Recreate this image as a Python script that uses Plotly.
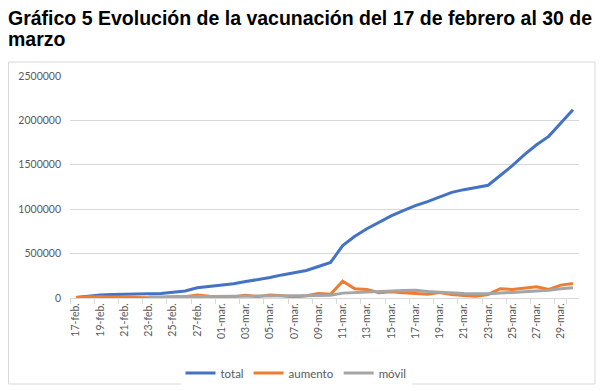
import plotly.graph_objects as go

dates = ["17-feb.", "18-feb.", "19-feb.", "20-feb.", "21-feb.", "22-feb.", "23-feb.", "24-feb.",
         "25-feb.", "26-feb.", "27-feb.", "28-feb.", "01-mar.", "02-mar.", "03-mar.", "04-mar.",
         "05-mar.", "06-mar.", "07-mar.", "08-mar.", "09-mar.", "10-mar.", "11-mar.", "12-mar.",
         "13-mar.", "14-mar.", "15-mar.", "16-mar.", "17-mar.", "18-mar.", "19-mar.", "20-mar.",
         "21-mar.", "22-mar.", "23-mar.", "24-mar.", "25-mar.", "26-mar.", "27-mar.", "28-mar.",
         "29-mar.", "30-mar."]

total = [5000, 20000, 35000, 40000, 40000, 45000, 48000, 52000, 65000, 80000, 115000, 130000,
         140000, 160000, 185000, 205000, 230000, 260000, 285000, 310000, 355000, 400000,
         590000, 695000, 780000, 850000, 925000, 985000, 1040000, 1085000, 1140000, 1190000,
         1220000, 1245000, 1270000, 1380000, 1490000, 1615000, 1725000, 1820000, 1970000, 2120000]

aumento = [5000, 15000, 15000, 10000, 5000, 5000, 3000, 3000, 15000, 15000, 35000, 20000,
           10000, 15000, 30000, 15000, 35000, 25000, 10000, 25000, 50000, 42000,
           190000, 105000, 95000, 60000, 70000, 58000, 48000, 42000, 62000, 38000,
           28000, 20000, 40000, 104000, 96000, 115000, 126000, 96000, 145000, 163000]

movil = [None, None, None, None, None, None, 12000, 12000, 13000, 13000, 17000, 18000,
         19000, 19000, 21000, 20000, 23000, 24000, 24000, 25000, 29000, 30000,
         55000, 62000, 68000, 74000, 80000, 85000, 88000, 72000, 65000, 56000,
         50000, 48000, 47000, 55000, 62000, 66000, 78000, 88000, 103000, 116000]

y_ticks = [0, 500000, 1000000, 1500000, 2000000, 2500000]
x_labels = dates[::2]

title_line1 = "Gráfico 5 Evolución de la vacunación del 17 de febrero al 30 de"
title_line2 = "marzo"

# page body has an 8px margin; figure is sized/positioned to compensate
OFF = 8
W, H = 608 - OFF, 391 - OFF
L, R, T, B = 70 - OFF, 608 - 579, 76 - OFF, 391 - 298
pw, ph = W - L - R, H - T - B

def px_x(p):  # page pixel -> paper fraction
    return (p - OFF - L) / pw

def px_y(p):
    return (H - B - (p - OFF)) / ph

fig = go.Figure()
fig.add_trace(go.Scatter(x=dates, y=total, name="total", mode="lines",
                         line=dict(color="#4472C4", width=3)))
fig.add_trace(go.Scatter(x=dates, y=aumento, name="aumento", mode="lines",
                         line=dict(color="#ED7D31", width=3)))
fig.add_trace(go.Scatter(x=dates, y=movil, name="móvil", mode="lines",
                         line=dict(color="#A5A5A5", width=3)))

tick_font = dict(family="Lato, Liberation Sans, sans-serif", size=10.5, color="#595959")

fig.update_layout(
    width=W, height=H,
    margin=dict(l=L, r=R, t=T, b=B, autoexpand=False),
    paper_bgcolor="white", plot_bgcolor="white",
    showlegend=True,
    legend=dict(orientation="h", xref="container", x=(296 - OFF) / W, xanchor="center",
                yref="container", y=1 - (373 - OFF) / H, yanchor="middle",
                font=dict(family="Lato, Liberation Sans, sans-serif", size=11.5, color="#595959"),
                itemwidth=30, tracegroupgap=0),
    xaxis=dict(type="category", categoryorder="array", categoryarray=dates,
               range=[-0.5, len(dates) - 0.5], automargin=False,
               tickmode="array", tickvals=x_labels, ticktext=x_labels,
               tickangle=-90, tickfont=tick_font,
               showgrid=False, showline=True, linecolor="#D9D9D9", linewidth=1,
               ticks="outside", ticklen=5, tickcolor="#D9D9D9", tickson="boundaries",
               zeroline=False),
    yaxis=dict(range=[0, 2500000], tickmode="array", tickvals=y_ticks, automargin=False,
               ticktext=[str(v) for v in y_ticks], tickfont=tick_font,
               showgrid=True, gridcolor="#D9D9D9", gridwidth=1,
               zeroline=False, showline=False, ticks="", ticklabelstandoff=8),
)

title_font = dict(family="Liberation Sans, Arial, sans-serif", size=19.5, color="#000000")
fig.add_annotation(text="<b>" + title_line1 + "</b>", xref="paper", yref="paper",
                   x=px_x(6), y=px_y(18), xanchor="left", yanchor="middle",
                   showarrow=False, font=title_font)
fig.add_annotation(text="<b>" + title_line2 + "</b>", xref="paper", yref="paper",
                   x=px_x(6), y=px_y(39), xanchor="left", yanchor="middle",
                   showarrow=False, font=title_font)

fig.add_shape(type="rect", xref="paper", yref="paper",
              x0=px_x(8.5), x1=px_x(595), y0=px_y(62), y1=px_y(384),
              line=dict(color="#D9D9D9", width=1), layer="below")

fig.write_html("out.html")
